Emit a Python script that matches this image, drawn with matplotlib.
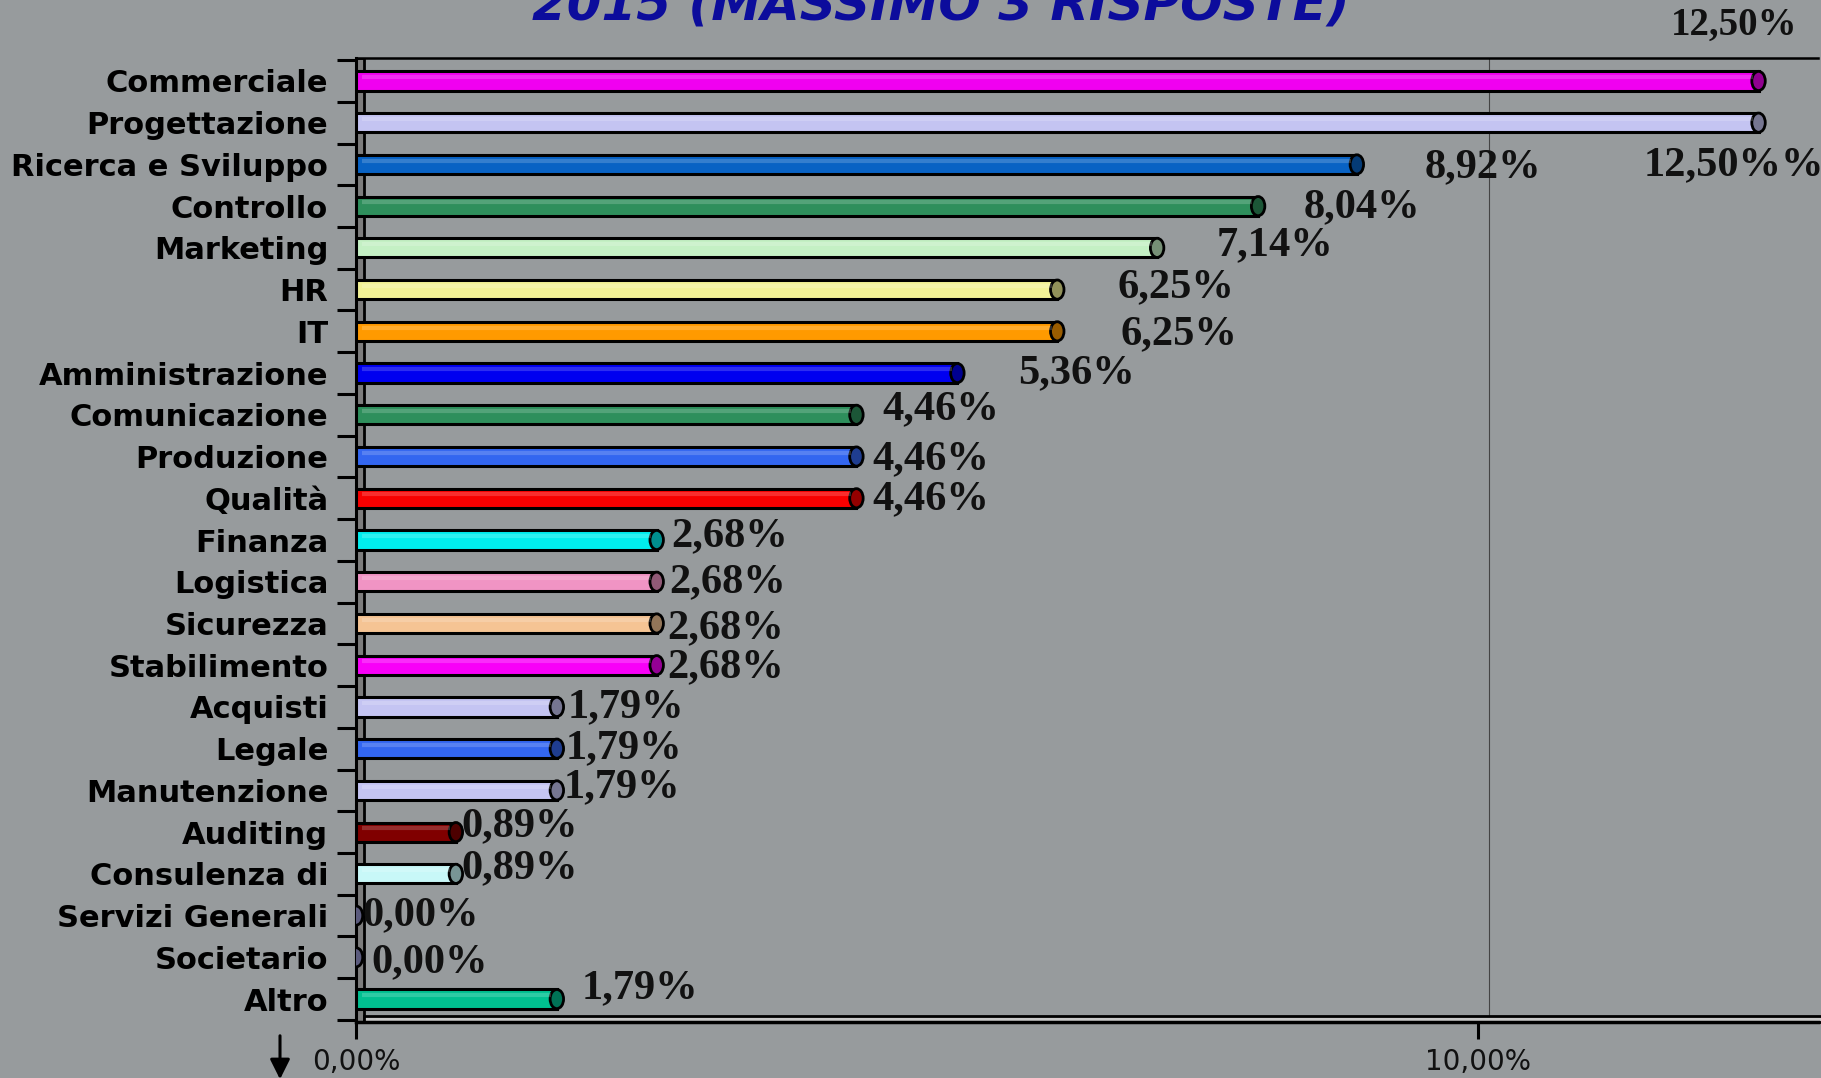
import numpy as np
import matplotlib
matplotlib.use('Agg')
from matplotlib import pyplot as plt
from matplotlib.patches import Ellipse, Rectangle

# ---------------- data ----------------
categories = ['Commerciale', 'Progettazione', 'Ricerca e Sviluppo', 'Controllo', 'Marketing',
              'HR', 'IT', 'Amministrazione', 'Comunicazione', 'Produzione', 'Qualità',
              'Finanza', 'Logistica', 'Sicurezza', 'Stabilimento', 'Acquisti', 'Legale',
              'Manutenzione', 'Auditing', 'Consulenza di', 'Servizi Generali', 'Societario', 'Altro']
values = [12.50, 12.50, 8.92, 8.04, 7.14, 6.25, 6.25, 5.36, 4.46, 4.46, 4.46,
          2.68, 2.68, 2.68, 2.68, 1.79, 1.79, 1.79, 0.89, 0.89, 0.00, 0.00, 1.79]
value_labels = ['12,50%', '12,50%%', '8,92%', '8,04%', '7,14%', '6,25%', '6,25%', '5,36%',
                '4,46%', '4,46%', '4,46%', '2,68%', '2,68%', '2,68%', '2,68%', '1,79%',
                '1,79%', '1,79%', '0,89%', '0,89%', '0,00%', '0,00%', '1,79%']
bar_colors = ['#f000f0', '#c4c4f2', '#0862c4', '#2e8f5c', '#c4f0c4', '#f2f296', '#ff9a00',
              '#0000f0', '#2e8f5c', '#3366f0', '#f80000', '#00eeee', '#f094c4', '#f5c494',
              '#f800f8', '#c4c4f2', '#3366f0', '#c4c4f2', '#800000', '#c8f8f8', '#9898d0',
              '#9898d0', '#00c090']
x_ticks = [0, 10]
x_tick_labels = ['0,00%', '10,00%']
title = '2015 (MASSIMO 3 RISPOSTE)'

# where the data labels sit (left edge in %, vertical shift in rows)
label_x = [11.72, 11.48, 9.52, 8.45, 7.67, 6.79, 6.81, 5.90, 4.69, 4.60, 4.60,
           2.81, 2.79, 2.77, 2.77, 1.89, 1.87, 1.85, 0.94, 0.94, 0.06, 0.14, 2.01]
label_dy = [-1.33, 1.03, 0.06, 0.03, -0.06, -0.06, 0.08, 0.0, -0.14, 0.06, 0.03,
            -0.08, 0.0, 0.11, 0.06, 0.0, 0.0, -0.08, -0.14, -0.14, 0.0, 0.11, -0.25]

bg = '#979b9d'
W, H = 1821, 1078

fig = plt.figure(figsize=(W / 100, H / 100), dpi=100, facecolor=bg)
ax = fig.add_axes([356 / W, 1 - 1022 / H, (1818 - 356) / W, (1022 - 58) / H])
ax.set_facecolor(bg)

y = np.arange(len(categories))
bar_h = 0.46

def darker(c, f=0.6):
    r, g, b = matplotlib.colors.to_rgb(c)
    return (r * f, g * f, b * f)

ax.barh(y, values, height=bar_h, color=bar_colors, edgecolor='black', linewidth=2.2, zorder=3)
# cylinder end caps
for yi, v, c in zip(y, values, bar_colors):
    ax.add_patch(Ellipse((v, yi), 0.12, bar_h, facecolor=darker(c), edgecolor='black',
                         linewidth=2, zorder=4))
    # light top highlight along the bar
    if v > 0:
        ax.plot([0.05, v - 0.05], [yi - bar_h * 0.2] * 2, color='white', alpha=0.18,
                lw=3, zorder=4, solid_capstyle='butt')

for yi, lx, dy, t in zip(y, label_x, label_dy, value_labels):
    fs = 28 if yi == 0 else 30.5
    ax.text(lx, yi + dy, t, ha='left', va='center', fontsize=fs, fontweight='bold',
            family=['Liberation Serif', 'DejaVu Serif'], color='#111111', zorder=6,
            clip_on=False)

ax.set_xlim(0, 13.03)
ax.set_ylim(len(categories) - 0.45, -0.55)

# back wall gridline at 10%
ax.axvline(10.1, color='#444444', lw=0.8, zorder=1)

ax.set_yticks(y)
ax.set_yticklabels(categories, fontsize=22, fontweight='bold', family='DejaVu Sans')
ax.tick_params(axis='y', length=0, pad=20)
ax.set_yticks(np.arange(len(categories) + 1) - 0.5, minor=True)
ax.tick_params(axis='y', which='minor', length=14, width=2.2, color='black', left=True)

ax.set_xticks(x_ticks)
ax.set_xticklabels(x_tick_labels, fontsize=20, family='DejaVu Sans', color='#111111')
ax.tick_params(axis='x', length=12, width=2.2, pad=7)

ax.spines['right'].set_visible(False)
ax.spines['top'].set_linewidth(1.8)
ax.spines['left'].set_linewidth(2.2)
ax.spines['bottom'].set_linewidth(2.5)

# 3D side wall and floor
ax.add_patch(Rectangle((0, 0), 8 / (1818 - 356), 1, transform=ax.transAxes,
                       facecolor='#7d7d7d', edgecolor='black', lw=2, zorder=2))
ax.add_patch(Rectangle((8 / (1818 - 356), 0), 1, 6 / (1022 - 58), transform=ax.transAxes,
                       facecolor='#c8c8c8', edgecolor='black', lw=2, zorder=2, clip_on=False))

# title, mostly cut off at the top of the slide
fig.text(941 / W, 1 - 20 / H, title, ha='center', va='baseline', fontsize=36,
         fontweight='bold', fontstyle='italic', color='#0c0c9c', family='DejaVu Sans')

# arrow below the axis
ax.annotate('', xy=(280, -4), xytext=(280, 45), xycoords='figure pixels',
            textcoords='figure pixels',
            arrowprops=dict(arrowstyle='-|>', color='black', lw=2.2, mutation_scale=30))

fig.savefig('out.png', dpi=100, facecolor=bg)
